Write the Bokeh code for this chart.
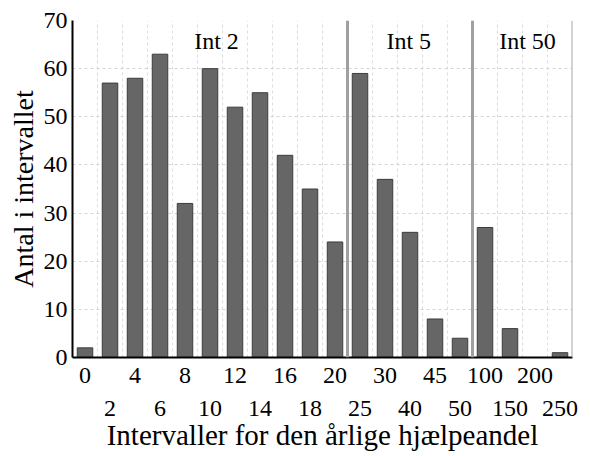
from bokeh.plotting import figure
from bokeh.models import (Range1d, FixedTicker, LinearAxis, Span, Label,
                          ColumnDataSource)
from bokeh.embed import file_html
from bokeh.resources import INLINE

categories = ["0", "2", "4", "6", "8", "10", "12", "14", "16", "18", "20",
              "25", "30", "40", "45", "50", "100", "150", "200", "250"]
counts = [2, 57, 58, 63, 32, 60, 52, 55, 42, 35, 24,
          59, 37, 26, 8, 4, 27, 6, 0, 1]
group_labels = ["Int 2", "Int 5", "Int 50"]
group_starts = [0, 11, 16]   # index of first category in each group
y_ticks = [0, 10, 20, 30, 40, 50, 60, 70]

FONT = "Liberation Serif"
n = len(categories)
idx = list(range(n))

src = ColumnDataSource(dict(x=idx, top=counts))

p = figure(width=590, height=456, output_backend="svg", toolbar_location=None,
           x_range=Range1d(-0.5, n - 0.5), y_range=Range1d(0, 70),
           min_border_left=72, min_border_right=18, min_border_top=20,
           min_border_bottom=99, background_fill_color="white",
           border_fill_color="white", outline_line_color=None)

p.vbar(x="x", top="top", width=0.62, source=src, fill_color="#666666",
       line_color="#3c3c3c", line_width=1)

# grids
p.ygrid.ticker = FixedTicker(ticks=y_ticks[1:])
p.ygrid.grid_line_color = "#d4d4d4"
p.ygrid.grid_line_dash = "3 3"
p.ygrid.grid_line_width = 1
p.xgrid.ticker = FixedTicker(ticks=[i + 0.5 for i in range(-1, n)])
p.xgrid.grid_line_color = "#dcdcdc"
p.xgrid.grid_line_dash = "3 3"
p.xgrid.grid_line_width = 1

# y axis
ya = p.yaxis[0]
ya.ticker = FixedTicker(ticks=y_ticks)
ya.axis_label = "Antal i intervallet"
ya.axis_label_text_font = FONT
ya.axis_label_text_font_size = "28px"
ya.axis_label_text_font_style = "normal"
ya.axis_label_text_color = "black"
ya.axis_label_standoff = 2
ya.major_label_text_font = FONT
ya.major_label_text_font_size = "24px"
ya.major_label_text_color = "black"
ya.major_label_standoff = 5
ya.major_tick_out = 0
ya.major_tick_in = 0
ya.minor_tick_out = 0
ya.minor_tick_in = 0
ya.axis_line_color = "black"
ya.axis_line_width = 2

# x axis: first row (even indices)
xa = p.xaxis[0]
even = [i for i in idx if i % 2 == 0]
odd = [i for i in idx if i % 2 == 1]
xa.ticker = FixedTicker(ticks=even)
xa.major_label_overrides = {i: categories[i] for i in even}
xa.major_label_text_font = FONT
xa.major_label_text_font_size = "24px"
xa.major_label_text_color = "black"
xa.major_label_standoff = 10
xa.major_tick_out = 0
xa.major_tick_in = 0
xa.minor_tick_out = 0
xa.minor_tick_in = 0
xa.axis_line_color = "black"
xa.axis_line_width = 2

# x axis: second row (odd indices) + title
xb = LinearAxis(ticker=FixedTicker(ticks=odd),
                major_label_overrides={i: categories[i] for i in odd})
xb.major_label_text_font = FONT
xb.major_label_text_font_size = "24px"
xb.major_label_text_color = "black"
xb.major_label_standoff = 15
xb.major_tick_out = 0
xb.major_tick_in = 0
xb.minor_tick_out = 0
xb.minor_tick_in = 0
xb.axis_line_color = None
xb.axis_label = "Intervaller for den årlige hjælpeandel"
xb.axis_label_text_font = FONT
xb.axis_label_text_font_size = "29px"
xb.axis_label_text_font_style = "normal"
xb.axis_label_text_color = "black"
xb.axis_label_standoff = 0
p.add_layout(xb, "below")

# group separators and right border
for s in group_starts[1:]:
    p.add_layout(Span(location=s - 0.5, dimension="height",
                      line_color="#a0a0a0", line_width=3))
p.add_layout(Span(location=n - 0.5, dimension="height",
                  line_color="#a8a8a8", line_width=2))

# group labels
label_x = [5.26, 12.95, 17.7]
for lab, lx in zip(group_labels, label_x):
    p.add_layout(Label(x=lx, y=65.7, text=lab, text_font=FONT,
                       text_font_size="24px", text_color="black",
                       text_align="center", text_baseline="middle"))

open("out.html", "w").write(file_html(p, INLINE))
